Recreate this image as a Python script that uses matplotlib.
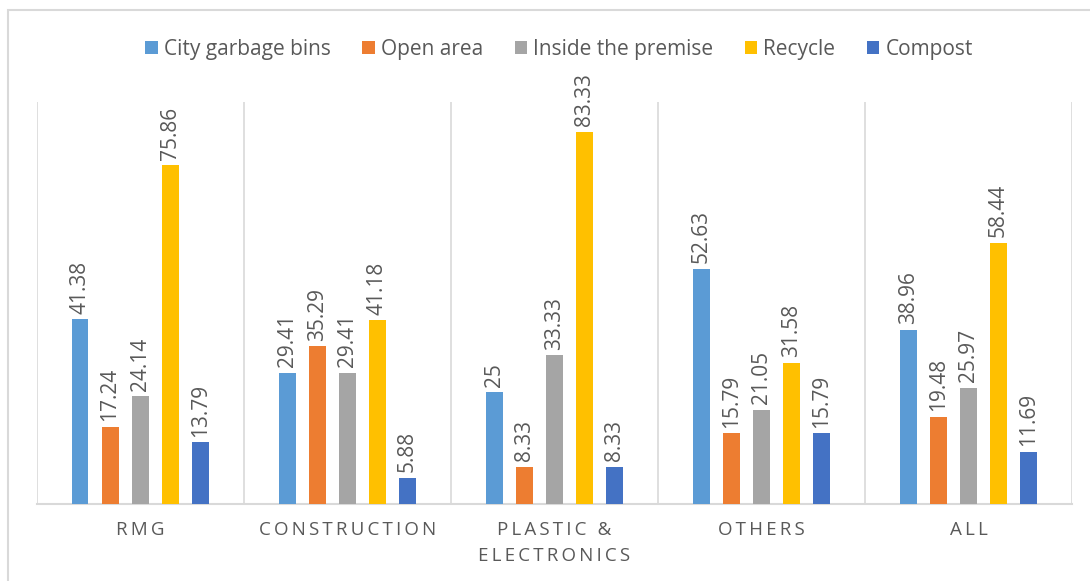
import matplotlib.pyplot as plt
from matplotlib.patches import Rectangle

plt.rcParams['font.family'] = ['Open Sans', 'DejaVu Sans']

# data
categories = ['RMG', 'CONSTRUCTION', 'PLASTIC &\nELECTRONICS', 'OTHERS', 'ALL']
series = ['City garbage bins', 'Open area', 'Inside the premise', 'Recycle', 'Compost']
city_bins = [41.38, 29.41, 25, 52.63, 38.96]
open_area = [17.24, 35.29, 8.33, 15.79, 19.48]
inside_premise = [24.14, 29.41, 33.33, 21.05, 25.97]
recycle = [75.86, 41.18, 83.33, 31.58, 58.44]
compost = [13.79, 5.88, 8.33, 15.79, 11.69]
values = [city_bins, open_area, inside_premise, recycle, compost]
colors = ['#5B9BD5', '#ED7D31', '#A5A5A5', '#FFC000', '#4472C4']

text_col = '#595959'
grid_col = '#D9D9D9'

fig = plt.figure(figsize=(10.9, 5.81), dpi=100)
ax = fig.add_axes([0.0335, 0.1325, 0.95, 0.692])

pitch = 0.145
width = 0.082
for i, (name, vals, c) in enumerate(zip(series, values, colors)):
    xs = [k + (i - 2) * pitch for k in range(len(categories))]
    bars = ax.bar(xs, vals, width, color=c, label=name, zorder=3)
    for b, v in zip(bars, vals):
        ax.annotate(f'{v:g}', (b.get_x() + b.get_width() / 2, v),
                    xytext=(0, 4), textcoords='offset points',
                    rotation=90, ha='center', va='bottom',
                    fontsize=15, color=text_col)

# vertical separators between categories
ax.vlines([k - 0.5 for k in range(len(categories) + 1)], 0, 90,
          color=grid_col, lw=1.2, zorder=1)

ax.set_xlim(-0.5, len(categories) - 0.5)
ax.set_ylim(0, 90)
for s in ['top', 'left', 'right']:
    ax.spines[s].set_visible(False)
ax.spines['bottom'].set_color(grid_col)
ax.spines['bottom'].set_linewidth(1.5)
ax.set_yticks([])
ax.set_xticks(range(len(categories)))
# letter-spaced category names
spaced = ['\n'.join('\u2009'.join(word) for word in c.split('\n')) for c in categories]
ax.set_xticklabels(spaced, fontsize=13.5, color=text_col, linespacing=1.6)
ax.tick_params(axis='x', length=0, pad=12)

fig.legend(loc='center', bbox_to_anchor=(0.513, 0.915), ncol=5, frameon=False,
           fontsize=15, labelcolor=text_col, handlelength=0.6, handleheight=0.6,
           handletextpad=0.3, columnspacing=1.5)

# chart border (right and bottom edges fall outside the canvas)
fig.patches.append(Rectangle((8 / 1090, -10 / 581), 1100 / 1090, 581 / 581,
                             transform=fig.transFigure, fill=False,
                             edgecolor=grid_col, lw=1.5))

fig.savefig('out.png', dpi=100)
